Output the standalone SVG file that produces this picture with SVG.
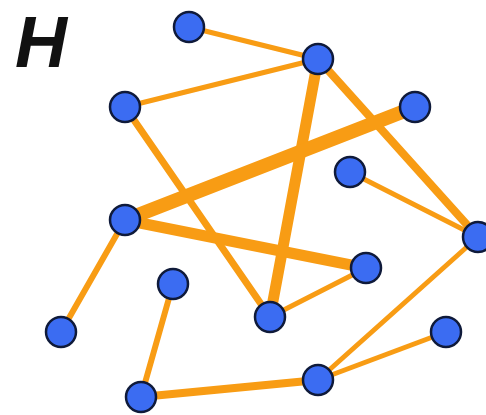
<svg xmlns="http://www.w3.org/2000/svg" width="486" height="415" viewBox="0 0 486 415">
<style>
.e{stroke:#f89c14;stroke-linecap:round;fill:none}
.n{fill:#3b6cf2;stroke:#0f1a3a;stroke-width:2.5}
.t{font-family:"Liberation Sans",Arial,sans-serif;font-weight:bold;font-style:italic;fill:#111}
</style>
<rect width="486" height="415" fill="#fff"/>
<text class="t" x="15" y="67" font-size="72">H</text>
<g id="edges">
<line class="e" x1="189" y1="27" x2="318" y2="59" stroke-width="5"/>
<line class="e" x1="125" y1="107" x2="318" y2="59" stroke-width="5"/>
<line class="e" x1="318" y1="59" x2="270" y2="317" stroke-width="11"/>
<line class="e" x1="318" y1="59" x2="478" y2="237" stroke-width="8"/>
<line class="e" x1="125" y1="107" x2="270" y2="317" stroke-width="7"/>
<line class="e" x1="125" y1="220" x2="415" y2="107" stroke-width="14"/>
<line class="e" x1="125" y1="220" x2="366" y2="268" stroke-width="11"/>
<line class="e" x1="125" y1="220" x2="61" y2="332" stroke-width="6"/>
<line class="e" x1="350" y1="172" x2="478" y2="237" stroke-width="5"/>
<line class="e" x1="270" y1="317" x2="366" y2="268" stroke-width="5"/>
<line class="e" x1="173" y1="284" x2="141" y2="397" stroke-width="6"/>
<line class="e" x1="141" y1="397" x2="318" y2="380" stroke-width="8"/>
<line class="e" x1="318" y1="380" x2="478" y2="237" stroke-width="5"/>
<line class="e" x1="318" y1="380" x2="446" y2="332" stroke-width="5"/>
</g>
<g id="nA"><circle class="n" cx="189" cy="27" r="15"/></g>
<g id="nB"><circle class="n" cx="318" cy="59" r="15"/></g>
<g id="nC"><circle class="n" cx="125" cy="107" r="15"/></g>
<g id="nD"><circle class="n" cx="415" cy="107" r="15"/></g>
<g id="nE"><circle class="n" cx="350" cy="172" r="15"/></g>
<g id="nF"><circle class="n" cx="125" cy="220" r="15"/></g>
<g id="nG"><circle class="n" cx="478" cy="237" r="15"/></g>
<g id="nH"><circle class="n" cx="366" cy="268" r="15"/></g>
<g id="nI"><circle class="n" cx="173" cy="284" r="15"/></g>
<g id="nJ"><circle class="n" cx="270" cy="317" r="15"/></g>
<g id="nK"><circle class="n" cx="61" cy="332" r="15"/></g>
<g id="nL"><circle class="n" cx="446" cy="332" r="15"/></g>
<g id="nM"><circle class="n" cx="318" cy="380" r="15"/></g>
<g id="nN"><circle class="n" cx="141" cy="397" r="15"/></g>
</svg>
